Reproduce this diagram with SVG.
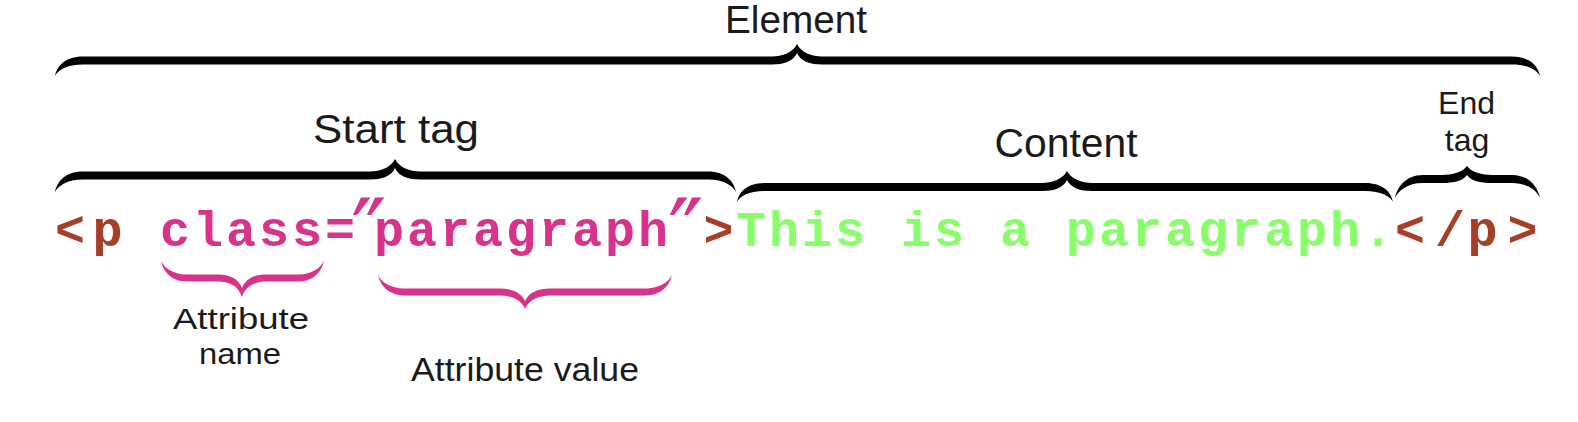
<svg xmlns="http://www.w3.org/2000/svg" width="1578" height="422" viewBox="0 0 1578 422">
<style>
.bg{fill:#ffffff}
.brace{fill:#000;stroke:none}
.pbrace{fill:#D9328B;stroke:none}
.lbl{font-family:"Liberation Sans","DejaVu Sans",sans-serif;fill:#1a1a1a;text-anchor:middle}
.code{font-family:"Liberation Mono","DejaVu Sans Mono",monospace;font-weight:bold;font-size:50px}
.tag{fill:#A63F28}
.attr{fill:#D9328B}
.content{fill:#88FF6A}
.q{font-family:"DejaVu Sans",sans-serif;font-weight:normal;font-size:96px;fill:#D9328B;letter-spacing:0}
</style>
<rect class="bg" x="0" y="0" width="1578" height="422"/>
<g id="connectors">
<path id="brace-element" class="brace" d="M55,76 C57,66 65,56.5 83,56.5 H772 C782,56.5 793,52.5 797,44 C801,52.5 812,56.5 822,56.5 H1512 C1530,56.5 1538,66 1540,76 C1537,70 1528,64.5 1512,64.5 H822 C810,64.5 801,61.5 797,53 C793,61.5 784,64.5 772,64.5 H83 C67,64.5 58,70 55,76 Z"/>
<path id="brace-start" class="brace" d="M55,192 C57,182 65,171.5 83,171.5 H370 C380,171.5 391,167.5 395,159 C399,167.5 410,171.5 420,171.5 H708 C726,171.5 734,182 736,192 C733,186 724,179.5 708,179.5 H420 C408,179.5 399,176.5 395,168 C391,176.5 382,179.5 370,179.5 H83 C67,179.5 58,186 55,192 Z"/>
<path id="brace-content" class="brace" d="M737,202 C739,192 747,183 765,183 H1042 C1052,183 1063,179 1067,171 C1071,179 1082,183 1092,183 H1365 C1383,183 1391,192 1393,202 C1390,196 1381,191 1365,191 H1092 C1080,191 1071,188 1067,180 C1063,188 1054,191 1042,191 H765 C749,191 740,196 737,202 Z"/>
<path id="brace-end" class="brace" d="M1395,198 C1397,188 1405,175 1423,175 H1442 C1452,175 1463,172 1467,166 C1471,172 1482,175 1492,175 H1512 C1530,175 1538,188 1540,198 C1537,191 1528,183 1512,183 H1492 C1480,183 1471,181 1467,175 C1463,181 1454,183 1442,183 H1423 C1407,183 1398,191 1395,198 Z"/>
<path id="brace-attrname" class="pbrace" d="M161,261 C163,270 170,281.5 187,281.5 H218 C228,281.5 238,285 242,297 C246,285 256,281.5 266,281.5 H298 C315,281.5 322,270 324,261 C321,267 313,274.5 298,274.5 H266 C255,274.5 246,278 242,288 C238,278 229,274.5 218,274.5 H187 C172,274.5 164,267 161,261 Z"/>
<path id="brace-attrvalue" class="pbrace" d="M378,275 C380,284 387,295.5 406,295.5 H500 C510,295.5 521,299 525,309 C529,299 540,295.5 550,295.5 H644 C663,295.5 670,284 672,275 C669,281 661,288.5 644,288.5 H550 C539,288.5 529,292 525,301 C521,292 511,288.5 500,288.5 H406 C389,288.5 381,281 378,275 Z"/>
</g>
<g id="label-element"><text class="lbl" x="796" y="33" font-size="38" textLength="142" lengthAdjust="spacingAndGlyphs">Element</text></g>
<g id="label-start"><text class="lbl" x="396" y="143" font-size="40" textLength="166" lengthAdjust="spacingAndGlyphs">Start tag</text></g>
<g id="label-content"><text class="lbl" x="1066" y="157" font-size="40" textLength="143" lengthAdjust="spacingAndGlyphs">Content</text></g>
<g id="label-end"><text class="lbl" x="1466.5" y="114" font-size="32">End</text><text class="lbl" x="1467" y="151" font-size="32">tag</text></g>
<g id="label-attrname"><text class="lbl" x="241" y="329" font-size="30" textLength="136" lengthAdjust="spacingAndGlyphs">Attribute</text><text class="lbl" x="240" y="364" font-size="30" textLength="82" lengthAdjust="spacingAndGlyphs">name</text></g>
<g id="label-attrvalue"><text class="lbl" x="525" y="381" font-size="34" textLength="228" lengthAdjust="spacingAndGlyphs">Attribute value</text></g>
<g id="code">
<text class="code" y="246"><tspan class="tag" x="55 92.5" y="246">&lt;p</tspan><tspan class="attr" x="160" y="246" letter-spacing="3">class=</tspan><tspan class="q" x="351" y="268">″</tspan><tspan class="attr" x="374" y="246" letter-spacing="3">paragraph</tspan><tspan class="q" x="668" y="268">″</tspan><tspan class="tag" x="703.5" y="246">&gt;</tspan><tspan class="content" x="736" y="246" letter-spacing="3">This is a paragraph.</tspan><tspan class="tag" x="1395 1435 1467.5 1507.5" y="246">&lt;/p&gt;</tspan></text>
</g>
</svg>
